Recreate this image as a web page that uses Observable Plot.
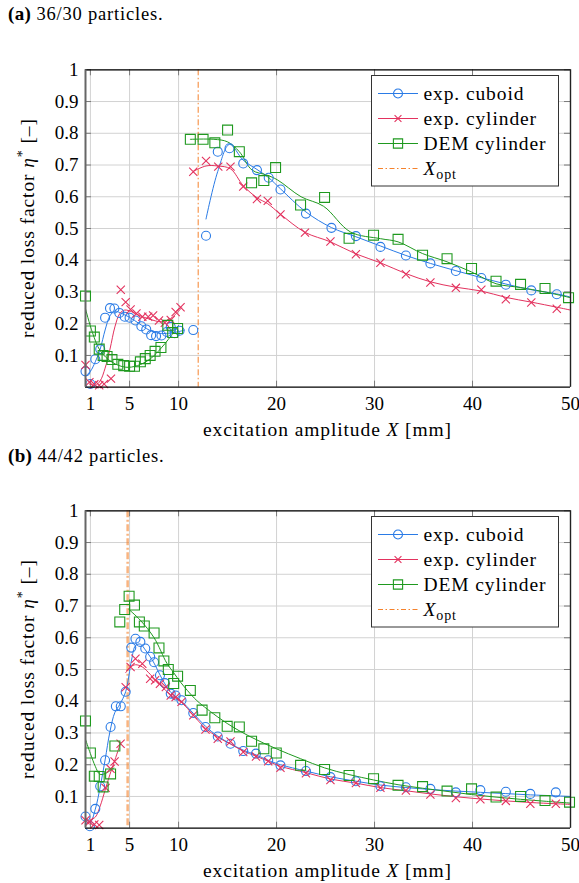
<!DOCTYPE html>
<html><head><meta charset="utf-8">
<script src="https://cdn.jsdelivr.net/npm/d3@7"></script>
<script src="https://cdn.jsdelivr.net/npm/@observablehq/plot@0.6"></script>
<style>
body{margin:0;background:#fff;width:579px;height:883px;position:relative;overflow:hidden;font-family:"Liberation Serif",serif;}
.panel{position:absolute;left:0;}
.cap{position:absolute;left:8px;font-size:18.5px;letter-spacing:0.8px;color:#000;white-space:nowrap;}
.cap b{font-size:19px;letter-spacing:0.3px;}
</style></head><body>
<div id="pa" class="panel" style="top:0px"></div>
<div id="pb" class="panel" style="top:441px"></div>
<div class="cap" style="top:3px"><b>(a)</b> 36/30 particles.</div>
<div class="cap" style="top:445px"><b>(b)</b> 44/42 particles.</div>
<script>
// ---------- ticks & labels ----------
const xTicks = [1, 5, 10, 20, 30, 40, 50];
const yTicks = [0.1, 0.2, 0.3, 0.4, 0.5, 0.6, 0.7, 0.8, 0.9, 1];
const legendLabels = ["exp. cuboid", "exp. cylinder", "DEM cylinder"];
const xOptA = 12;
const xOptB = 4.8;

// ---------- panel (a) markers ----------
const cuboidA = [[0.5,0.05],[1.0,0.01],[1.5,0.088],[2.0,0.12],[2.5,0.219],[3.0,0.249],[3.45,0.248],[3.95,0.234],[4.5,0.222],[5.0,0.219],[5.6,0.21],[6.2,0.192],[6.7,0.182],[7.2,0.164],[7.7,0.161],[8.25,0.163],[8.8,0.174],[9.2,0.19],[9.6,0.17],[10.1,0.178],[11.5,0.18],[12.8,0.477],[14.0,0.742],[15.2,0.753],[16.6,0.705],[18.0,0.684],[19.2,0.66],[20.4,0.623],[23.0,0.547],[25.6,0.502],[28.1,0.476],[30.6,0.442],[33.2,0.415],[35.7,0.39],[38.3,0.366],[40.9,0.344],[43.4,0.323],[46.0,0.305],[48.6,0.293]];
const cylinderA = [[0.5,0.07],[0.9,0.016],[1.4,0.009],[1.9,0.006],[2.4,0.01],[3.1,0.027],[4.1,0.307],[4.6,0.268],[5.1,0.245],[5.7,0.232],[6.3,0.222],[6.9,0.222],[7.4,0.226],[8.0,0.21],[8.6,0.203],[9.2,0.212],[9.7,0.237],[10.2,0.252],[11.5,0.679],[12.8,0.713],[14.05,0.695],[15.3,0.695],[16.6,0.632],[18.0,0.593],[19.1,0.587],[20.4,0.544],[22.9,0.487],[25.5,0.459],[28.1,0.419],[30.6,0.392],[33.2,0.356],[35.7,0.33],[38.3,0.313],[40.9,0.307],[43.4,0.277],[46.0,0.267],[48.6,0.247]];
const demA = [[0.5,0.287],[1.0,0.177],[1.4,0.158],[1.9,0.12],[2.3,0.1],[2.7,0.097],[3.2,0.087],[3.8,0.072],[4.4,0.068],[5.0,0.066],[5.5,0.066],[6.1,0.08],[6.6,0.09],[7.1,0.1],[7.6,0.113],[8.2,0.125],[8.9,0.195],[9.4,0.172],[9.9,0.185],[11.2,0.781],[12.5,0.781],[13.7,0.77],[15.0,0.81],[16.2,0.742],[17.45,0.644],[18.7,0.651],[19.9,0.692],[22.45,0.574],[24.9,0.598],[27.4,0.469],[29.9,0.479],[32.4,0.466],[34.9,0.416],[37.4,0.405],[39.9,0.374],[42.4,0.334],[44.9,0.324],[47.4,0.311],[49.8,0.282]];

// ---------- panel (a) trend lines ----------
const cuboidFitA1 = [[0.5,0.035],[1,0.05],[1.5,0.08],[2,0.12],[2.5,0.18],[3,0.225],[3.5,0.24],[4,0.235],[5,0.22],[6,0.2],[7,0.18],[8,0.17],[9,0.17],[10,0.175],[10.6,0.18]];
const cuboidFitA2 = [[12.8,0.53],[14,0.68],[15.2,0.765],[16.6,0.715],[18,0.686],[19.2,0.66],[20.4,0.625],[23,0.552],[25.6,0.503],[28.1,0.474],[30.6,0.445],[33.2,0.415],[35.7,0.39],[38.3,0.367],[40.9,0.345],[43.4,0.325],[46,0.307],[48.6,0.294],[50,0.284]];
const cylinderFitA1 = [[0.9,0.01],[1.5,0.006],[2,0.02],[2.5,0.06],[3,0.12],[3.5,0.19],[4,0.232],[4.5,0.243],[5.2,0.238],[6,0.226],[7,0.215],[8.2,0.206],[9,0.213],[9.7,0.23],[10.3,0.25]];
const cylinderFitA2 = [[11.5,0.68],[12.8,0.697],[14,0.697],[15.3,0.688],[16.6,0.635],[18,0.597],[19.1,0.578],[20.4,0.545],[22.9,0.488],[25.5,0.458],[28.1,0.42],[30.6,0.392],[33.2,0.358],[35.7,0.332],[38.3,0.315],[40.9,0.303],[43.4,0.283],[46,0.268],[48.6,0.252],[50,0.243]];
const demFitA1 = [[0.5,0.247],[1.2,0.173],[2,0.115],[3.2,0.079],[4.6,0.063],[5.8,0.068],[7.1,0.089],[8.3,0.126],[9.5,0.173],[10,0.195]];
const demFitA2 = [[11.2,0.781],[13.6,0.781],[15,0.773],[16.2,0.742],[17.5,0.684],[19.05,0.668],[20.1,0.653],[22.5,0.6],[24.8,0.57],[27.55,0.489],[30.6,0.468],[32.4,0.458],[34.9,0.421],[37.4,0.395],[39.9,0.363],[42.4,0.326],[44.9,0.314],[47.4,0.3],[50,0.282]];

// ---------- panel (b) markers ----------
const cuboidB = [[0.5,0.037],[0.95,0.006],[1.5,0.061],[2.0,0.132],[2.5,0.214],[3.06,0.319],[3.6,0.384],[4.1,0.384],[4.6,0.43],[5.17,0.569],[5.6,0.597],[6.1,0.587],[6.6,0.566],[7.1,0.54],[7.5,0.523],[8.1,0.482],[8.6,0.457],[9.2,0.424],[9.7,0.418],[10.3,0.403],[11.5,0.363],[12.75,0.319],[14,0.289],[15.3,0.266],[16.6,0.243],[17.9,0.235],[19.15,0.214],[20.4,0.198],[23,0.18],[25.5,0.161],[28.1,0.148],[30.6,0.132],[33.2,0.129],[35.7,0.124],[38.3,0.113],[40.8,0.12],[43.4,0.115],[45.9,0.108],[48.5,0.113]];
const cylinderB = [[0.5,0.025],[0.9,0.02],[1.4,0.012],[1.9,0.01],[2.55,0.127],[3.06,0.187],[3.47,0.21],[4.08,0.266],[4.6,0.444],[5.1,0.508],[5.6,0.534],[6.3,0.518],[7.1,0.471],[7.6,0.466],[8.1,0.455],[8.7,0.445],[9.2,0.418],[9.7,0.413],[10.3,0.398],[11.5,0.356],[12.75,0.311],[14,0.282],[15.3,0.273],[16.6,0.24],[17.9,0.226],[19.15,0.211],[20.4,0.19],[23,0.173],[25.5,0.152],[28.1,0.142],[30.6,0.127],[33.2,0.119],[35.7,0.106],[38.3,0.095],[40.8,0.091],[43.4,0.086],[45.9,0.077],[48.5,0.077]];
const demB = [[0.5,0.338],[1.0,0.237],[1.4,0.164],[1.9,0.163],[2.3,0.13],[3.06,0.171],[3.5,0.259],[4.0,0.65],[4.5,0.689],[4.95,0.731],[5.5,0.703],[6.0,0.65],[6.5,0.637],[7.5,0.615],[8.0,0.568],[8.5,0.527],[8.95,0.5],[9.5,0.456],[9.9,0.479],[11.2,0.434],[12.4,0.372],[13.7,0.348],[14.96,0.321],[16.2,0.319],[17.45,0.274],[18.7,0.25],[19.97,0.237],[22.45,0.198],[24.9,0.185],[27.4,0.166],[29.9,0.156],[32.4,0.135],[34.9,0.131],[37.4,0.117],[39.9,0.124],[42.4,0.098],[44.9,0.1],[47.4,0.087],[49.9,0.082]];

// ---------- panel (b) trend lines ----------
const cuboidFitB = [[0.5,0.03],[1,0.02],[1.5,0.06],[2,0.13],[2.5,0.215],[3,0.305],[3.5,0.365],[4,0.39],[4.6,0.43],[5.2,0.53],[5.6,0.575],[6.1,0.58],[6.6,0.562],[7.1,0.54],[7.5,0.52],[8.1,0.483],[8.6,0.455],[9.2,0.428],[9.7,0.415],[10.3,0.4],[11.5,0.362],[12.75,0.321],[14,0.29],[15.3,0.266],[16.6,0.246],[17.9,0.231],[19.15,0.214],[20.4,0.2],[23,0.18],[25.5,0.162],[28.1,0.148],[30.6,0.136],[33.2,0.128],[35.7,0.122],[38.3,0.117],[40.8,0.113],[43.4,0.109],[45.9,0.105],[48.5,0.102],[50,0.1]];
const cylinderFitB1 = [[0.9,0.025],[1.5,0.035],[2,0.07],[2.5,0.12],[3,0.17],[3.5,0.215],[4.1,0.27]];
const cylinderFitB2 = [[4.6,0.49],[5.1,0.508],[5.6,0.515],[6.3,0.508],[7.1,0.485],[8.1,0.452],[9.2,0.42],[10.3,0.397],[11.5,0.356],[12.75,0.315],[14,0.287],[15.3,0.265],[16.6,0.243],[17.9,0.227],[19.15,0.211],[20.4,0.195],[23,0.175],[25.5,0.155],[28.1,0.142],[30.6,0.128],[33.2,0.118],[35.7,0.108],[38.3,0.099],[40.8,0.092],[43.4,0.086],[45.9,0.081],[48.5,0.077],[50,0.075]];
const demFitB1 = [[0.5,0.28],[1,0.235],[1.5,0.195],[1.95,0.17],[2.5,0.172],[3.4,0.19]];
const demFitB2 = [[4.9,0.69],[6.1,0.655],[7.5,0.6],[8.8,0.52],[9.5,0.49],[10.2,0.46],[11.6,0.41],[12.4,0.388],[14.96,0.33],[17.4,0.287],[20,0.25],[22.45,0.219],[24.9,0.19],[27.4,0.169],[29.9,0.152],[32.4,0.137],[34.9,0.126],[37.4,0.116],[39.9,0.106],[42.4,0.098],[44.9,0.091],[47.4,0.085],[50,0.079]];

// ---------- styles ----------
const C = {cuboid:"#2a7be6", cylinder:"#e3325e", dem:"#1f991f", opt:"#f5822c", grid:"#d2d2d2", tick:"#7a7a7a"};
const FONT = "Liberation Serif";
const LS = "0.9px";
const toObj = arr => arr.map(([x, y]) => ({x, y}));

function panel(el, d) {
  const W = 579, H = 441, mt = 69.3, mb = 54.3, ml = 85, mr = 9;
  const fw = W - ml - mr, fh = H - mt - mb;
  const line = (arr, c) => Plot.line(toObj(arr), {x:"x", y:"y", stroke:c, strokeWidth:1, curve:"catmull-rom"});
  const plot = Plot.plot({
    width: W, height: H, marginTop: mt, marginBottom: mb, marginLeft: ml, marginRight: mr,
    style: {fontFamily: FONT, fontSize: "19px", color: "#000", background: "transparent", overflow: "visible"},
    x: {domain: [0.5, 50], ticks: xTicks, tickSize: 0, tickPadding: 9.5, tickFormat: d => String(d), label: null},
    y: {domain: [0, 1], ticks: yTicks, tickSize: 0, tickPadding: 7, tickFormat: d => String(d), label: null},
    marks: [
      Plot.gridX(xTicks, {stroke: C.grid, strokeOpacity: 1, strokeWidth: 1}),
      Plot.gridY(yTicks, {stroke: C.grid, strokeOpacity: 1, strokeWidth: 1}),
      Plot.ruleX(xTicks, {stroke: C.tick, insetTop: fh - 6}),
      Plot.ruleX(xTicks, {stroke: C.tick, insetBottom: fh - 6}),
      Plot.ruleY(yTicks, {stroke: C.tick, insetRight: fw - 6}),
      Plot.ruleY(yTicks, {stroke: C.tick, insetLeft: fw - 6}),
      Plot.ruleX([d.xopt], {stroke: C.opt, strokeWidth: d.optW, strokeOpacity: d.optO, strokeDasharray: d.optDash}),
      ...d.fits.map(([arr, c]) => line(arr, c)),
      Plot.dot(toObj(d.cuboid), {x:"x", y:"y", symbol:"circle", r:4.5, stroke:C.cuboid, fill:"none", strokeWidth:1.1}),
      Plot.dot(toObj(d.cylinder), {x:"x", y:"y", symbol:"times", r:3.8, stroke:C.cylinder, strokeWidth:1.1}),
      Plot.dot(toObj(d.dem), {x:"x", y:"y", symbol:"square", r:5.6, stroke:C.dem, fill:"none", strokeWidth:1.1}),
      Plot.ruleY([0], {stroke: "#000", strokeWidth: 1.2}),
      Plot.ruleY([1], {stroke: "#000", strokeWidth: 1.2}),
      Plot.ruleX([50], {stroke: "#222", strokeWidth: 1.4}),
      Plot.ruleX([0.5], {stroke: "#666", strokeWidth: 2})
    ]
  });
  const svg = d3.select(plot);
  // axis labels
  const xl = svg.append("text").attr("x", ml + fw / 2).attr("y", mt + fh + 49).attr("text-anchor", "middle")
    .attr("font-family", FONT).attr("font-size", 19.5).attr("letter-spacing", LS).attr("fill", "#000");
  xl.append("tspan").text("excitation amplitude ");
  xl.append("tspan").attr("font-style", "italic").text("X");
  xl.append("tspan").text(" [mm]");
  const yl = svg.append("text").attr("transform", `translate(34,${mt + fh / 2}) rotate(-90)`).attr("text-anchor", "middle")
    .attr("font-family", FONT).attr("font-size", 19.5).attr("letter-spacing", LS).attr("fill", "#000");
  yl.append("tspan").text("reduced loss factor ");
  yl.append("tspan").attr("font-style", "italic").text("η");
  yl.append("tspan").attr("font-size", 14).attr("dy", -7).text("*");
  yl.append("tspan").attr("dy", 7).text(" [–]");
  // legend
  const lx = 371.5, ly = mt + 6.2, lw = 187, lh = 110.5;
  const g = svg.append("g").attr("font-family", FONT).attr("font-size", 19.5).attr("letter-spacing", LS).attr("text-anchor", "start");
  g.append("rect").attr("x", lx).attr("y", ly).attr("width", lw).attr("height", lh).attr("fill", "#fff").attr("stroke", "#333").attr("stroke-width", 1);
  const rows = [
    {label: legendLabels[0], c: C.cuboid, sym: d3.symbolCircle, r: 4.5},
    {label: legendLabels[1], c: C.cylinder, sym: d3.symbolTimes, r: 3.2},
    {label: legendLabels[2], c: C.dem, sym: d3.symbolSquare, r: 5.2},
    {label: null, c: C.opt}
  ];
  rows.forEach((row, i) => {
    const cy = ly + 18 + i * 25;
    const ln = g.append("line").attr("x1", lx + 6.5).attr("x2", lx + 46.5).attr("y1", cy).attr("y2", cy).attr("stroke", row.c).attr("stroke-width", 1);
    if (row.sym) {
      g.append("path").attr("d", d3.symbol(row.sym, Math.PI * row.r * row.r)()).attr("transform", `translate(${lx + 26.5},${cy})`)
        .attr("fill", "none").attr("stroke", row.c).attr("stroke-width", 1.1);
      g.append("text").attr("x", lx + 52).attr("y", cy).attr("dy", "0.32em").attr("fill", "#000").text(row.label);
    } else {
      ln.attr("stroke-dasharray", "5 2.5 1.5 2.5");
      const t = g.append("text").attr("x", lx + 52).attr("y", cy).attr("dy", "0.32em").attr("fill", "#000");
      t.append("tspan").attr("font-style", "italic").text("X");
      t.append("tspan").attr("font-size", 14).attr("dy", 4).text("opt");
    }
  });
  document.getElementById(el).appendChild(plot);
}

panel("pa", {
  xopt: xOptA, optW: 1, optO: 1, optDash: "6 2.5 1.5 2.5",
  cuboid: cuboidA, cylinder: cylinderA, dem: demA,
  fits: [[cuboidFitA1, C.cuboid], [cuboidFitA2, C.cuboid], [cylinderFitA1, C.cylinder], [cylinderFitA2, C.cylinder], [demFitA1, C.dem], [demFitA2, C.dem]]
});
panel("pb", {
  xopt: xOptB, optW: 2.5, optO: 0.6, optDash: "7 2.5 2 2.5",
  cuboid: cuboidB, cylinder: cylinderB, dem: demB,
  fits: [[cuboidFitB, C.cuboid], [cylinderFitB1, C.cylinder], [cylinderFitB2, C.cylinder], [demFitB1, C.dem], [demFitB2, C.dem]]
});
</script>
</body></html>
